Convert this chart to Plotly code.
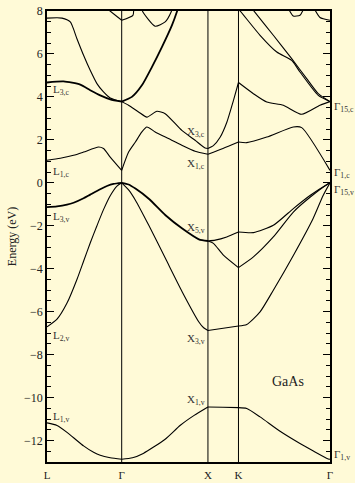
import plotly.graph_objects as go

# ---------------- data ----------------
HS_K = [0.0, 0.866, 1.866, 2.220, 3.281]
HS_LABELS = ["L", "Γ", "X", "K", "Γ"]

# valence bands
S_BAND_K = [0, 0.116, 0.232, 0.347, 0.424, 0.540, 0.617, 0.733, 0.866,
            0.991, 1.116, 1.366, 1.546, 1.706, 1.866, 2.040, 2.220,
            2.316, 2.470, 2.702, 2.933, 3.088, 3.261, 3.281]
S_BAND_E = [-11.18, -11.30, -11.62, -12.00, -12.25, -12.55, -12.69, -12.80, -12.87,
            -12.80, -12.60, -11.95, -11.29, -10.83, -10.44, -10.45, -10.47,
            -10.51, -10.90, -11.57, -12.14, -12.49, -12.86, -12.87]

V_L3_K = [0, 0.116, 0.232, 0.308, 0.424, 0.501, 0.617, 0.695, 0.771, 0.866]
V_L3_E = [-1.13, -1.10, -1.02, -0.93, -0.72, -0.55, -0.30, -0.15, -0.05, 0.0]

V_L2_K = [0, 0.116, 0.232, 0.347, 0.424, 0.501, 0.579, 0.655, 0.733, 0.811, 0.866]
V_L2_E = [-6.71, -6.35, -5.60, -4.50, -3.65, -2.80, -2.00, -1.25, -0.60, -0.15, 0.0]

V_HH_K = [0.866, 0.946, 1.025, 1.180, 1.374, 1.568, 1.761, 1.866]
V_HH_E = [0.0, -0.08, -0.27, -0.74, -1.51, -2.13, -2.63, -2.71]

V_X3_K = [0.866, 0.946, 1.025, 1.180, 1.374, 1.568, 1.761, 1.816, 1.866,
          2.220, 2.316, 2.470, 2.624, 2.856, 3.084, 3.200, 3.281]
V_X3_E = [0.0, -0.33, -0.81, -1.98, -3.53, -5.08, -6.48, -6.75, -6.88,
          -6.67, -6.60, -6.01, -5.00, -3.38, -1.67, -0.60, 0.0]

V_XK_UP_K = [1.866, 1.950, 2.084, 2.220, 2.393, 2.624, 2.856, 3.053, 3.261, 3.281]
V_XK_UP_E = [-2.71, -2.67, -2.52, -2.29, -2.32, -1.98, -1.20, -0.58, -0.04, 0.0]

V_XK_MID_K = [1.866, 1.930, 2.045, 2.220, 2.393, 2.624, 2.856, 3.053, 3.261, 3.281]
V_XK_MID_E = [-2.71, -2.82, -3.37, -3.95, -3.45, -2.52, -1.36, -0.66, -0.04, 0.0]

# conduction bands
C_LOW_K = [0, 0.154, 0.308, 0.424, 0.598, 0.655, 0.733, 0.866, 0.946, 1.025,
           1.100, 1.158, 1.254, 1.408, 1.563, 1.717, 1.866, 2.040, 2.220,
           2.316, 2.548, 2.856, 2.953, 3.281]
C_LOW_E = [1.05, 1.14, 1.28, 1.43, 1.67, 1.60, 1.20, 0.58, 1.43, 1.90,
           2.37, 2.60, 2.37, 2.06, 1.75, 1.47, 1.33, 1.60, 1.90,
           1.87, 2.13, 2.60, 2.57, 0.58]

C_L3_K = [0, 0.192, 0.386, 0.501, 0.617, 0.733, 0.866]
C_L3_E = [4.67, 4.72, 4.57, 4.31, 4.07, 3.89, 3.78]

C_LUP_K = [0, 0.174, 0.270, 0.347, 0.424, 0.501, 0.579, 0.655, 0.733, 0.866]
C_LUP_E = [7.67, 7.67, 7.49, 6.71, 5.94, 5.24, 4.62, 4.23, 3.95, 3.78]

C_GXUP_K = [0.866, 0.984, 1.100, 1.216, 1.332, 1.448, 1.505, 1.530]
C_GXUP_E = [3.78, 4.00, 4.54, 5.39, 6.32, 7.33, 7.95, 8.30]

C_X3_K = [0.866, 0.945, 1.061, 1.158, 1.274, 1.370, 1.563, 1.717, 1.833, 1.866,
          1.929, 2.007, 2.085, 2.161, 2.220, 2.393, 2.548, 2.740, 2.953, 3.165, 3.281]
C_X3_E = [3.78, 3.61, 3.30, 3.06, 3.33, 3.22, 2.44, 1.98, 1.62, 1.60,
          1.73, 2.12, 2.82, 3.83, 4.67, 4.15, 3.76, 3.61, 3.19, 3.61, 3.78]

TOP_VG_K = [0.715, 0.866, 0.996, 1.005]
TOP_VG_E = [8.05, 7.57, 7.80, 8.10]

TOP_VGX_K = [1.100, 1.112, 1.254, 1.370, 1.439, 1.450]
TOP_VGX_E = [8.10, 7.95, 7.29, 7.49, 7.95, 8.10]

TOP_KG1_K = [2.215, 2.233, 2.470, 2.664, 2.837, 2.933, 3.145, 3.281]
TOP_KG1_E = [8.10, 8.03, 6.87, 6.09, 5.70, 5.16, 4.07, 3.78]

TOP_KG2_K = [2.380, 2.393, 2.624, 2.837, 3.011, 3.145, 3.281]
TOP_KG2_E = [8.10, 8.03, 6.87, 5.78, 4.85, 4.15, 3.78]

TOP_DIP_K = [2.800, 2.855, 2.933, 2.975]
TOP_DIP_E = [8.10, 7.77, 7.80, 8.10]

TOP_G_K = [3.100, 3.165, 3.281]
TOP_G_E = [8.10, 7.70, 7.57]

# labels: (text, energy)
L_LABELS = [("L<sub>3,c</sub>", 4.40), ("L<sub>1,c</sub>", 0.61), ("L<sub>3,v</sub>", -1.51),
            ("L<sub>2,v</sub>", -7.02), ("L<sub>1,v</sub>", -10.83)]
X_LABELS = [("X<sub>3,c</sub>", 2.44), ("X<sub>1,c</sub>", 0.97), ("X<sub>5,v</sub>", -2.03),
            ("X<sub>3,v</sub>", -7.18), ("X<sub>1,v</sub>", -10.0)]
G_LABELS = [("Γ<sub>15,c</sub>", 3.61), ("Γ<sub>1,c</sub>", 0.55), ("Γ<sub>15,v</sub>", -0.22),
            ("Γ<sub>1,v</sub>", -12.58)]
MATERIAL = "GaAs"
MATERIAL_POS = (2.795, -9.27)

# ---------------- figure ----------------
BG = "#fffad7"
SERIF = "Liberation Serif, Times New Roman, serif"

curves = [
    (S_BAND_K, S_BAND_E, 1.1), (V_L3_K, V_L3_E, 1.8), (V_L2_K, V_L2_E, 1.1),
    (V_HH_K, V_HH_E, 1.8), (V_X3_K, V_X3_E, 1.1), (V_XK_UP_K, V_XK_UP_E, 1.1),
    (V_XK_MID_K, V_XK_MID_E, 1.1), (C_LOW_K, C_LOW_E, 1.1), (C_L3_K, C_L3_E, 1.8),
    (C_LUP_K, C_LUP_E, 1.1), (C_GXUP_K, C_GXUP_E, 1.8), (C_X3_K, C_X3_E, 1.1),
    (TOP_VG_K, TOP_VG_E, 1.1), (TOP_VGX_K, TOP_VGX_E, 1.1), (TOP_KG1_K, TOP_KG1_E, 1.1),
    (TOP_KG2_K, TOP_KG2_E, 1.1), (TOP_DIP_K, TOP_DIP_E, 1.1), (TOP_G_K, TOP_G_E, 1.1),
]


def split_at_symmetry(ks, es):
    segs, cur_k, cur_e = [], [], []
    inner = set(HS_K[1:-1])
    for i, (k, e) in enumerate(zip(ks, es)):
        cur_k.append(k)
        cur_e.append(e)
        if k in inner and 0 < i < len(ks) - 1:
            segs.append((cur_k, cur_e))
            cur_k, cur_e = [k], [e]
    segs.append((cur_k, cur_e))
    return segs


fig = go.Figure()
for ks, es, w in curves:
    for sk, se in split_at_symmetry(ks, es):
        fig.add_trace(go.Scatter(
            x=sk, y=se, mode="lines", showlegend=False, hoverinfo="skip",
            line=dict(color="black", width=w, shape="spline", smoothing=0.6)))

for k in HS_K[1:-1]:
    fig.add_shape(type="line", x0=k, x1=k, y0=0, y1=1, xref="x", yref="paper",
                  line=dict(color="black", width=1))

ann = []
lab_font = dict(family=SERIF, size=11, color="#333")
for t, e in L_LABELS:
    ann.append(dict(x=HS_K[0], y=e, text=t, xanchor="left", yanchor="middle",
                    xshift=4, yshift=-2, showarrow=False, font=lab_font))
for t, e in X_LABELS:
    ann.append(dict(x=HS_K[2], y=e, text=t, xanchor="right", yanchor="middle",
                    xshift=-1, yshift=-2, showarrow=False, font=lab_font))
for t, e in G_LABELS:
    ann.append(dict(x=HS_K[4], y=e, text=t, xanchor="left", yanchor="middle",
                    xshift=2, yshift=-2, showarrow=False, font=lab_font))
ann.append(dict(x=MATERIAL_POS[0], y=MATERIAL_POS[1], text=MATERIAL, showarrow=False,
                font=dict(family=SERIF, size=14, color="#222")))

fig.update_layout(
    width=355, height=483,
    margin=dict(l=47, r=25, t=11, b=21),
    paper_bgcolor=BG, plot_bgcolor=BG,
    annotations=ann,
    xaxis=dict(range=[HS_K[0], HS_K[-1]], tickvals=HS_K, ticktext=HS_LABELS,
               showgrid=False, zeroline=False, showline=True, mirror=True,
               linecolor="black", linewidth=1.5, ticks="", ticklabelstandoff=2,
               tickfont=dict(family=SERIF, size=11, color="#222"), automargin=False),
    yaxis=dict(range=[-13, 8], tick0=0, dtick=2, showgrid=False, zeroline=False,
               showline=True, mirror="ticks", linecolor="black", linewidth=1.5,
               ticks="inside", ticklen=7, tickcolor="black",
               minor=dict(dtick=0.5, tick0=0, ticks="inside", ticklen=4, tickcolor="black"),
               tickfont=dict(family=SERIF, size=12, color="#222"),
               title=dict(text="Energy (eV)", font=dict(family=SERIF, size=12, color="#222"),
                          standoff=5),
               automargin=False),
)

# remove the default 8px page margin so the figure fills the window exactly
fig.write_html("out.html", config={"displayModeBar": False},
               post_script="document.body.style.margin='0px';")
